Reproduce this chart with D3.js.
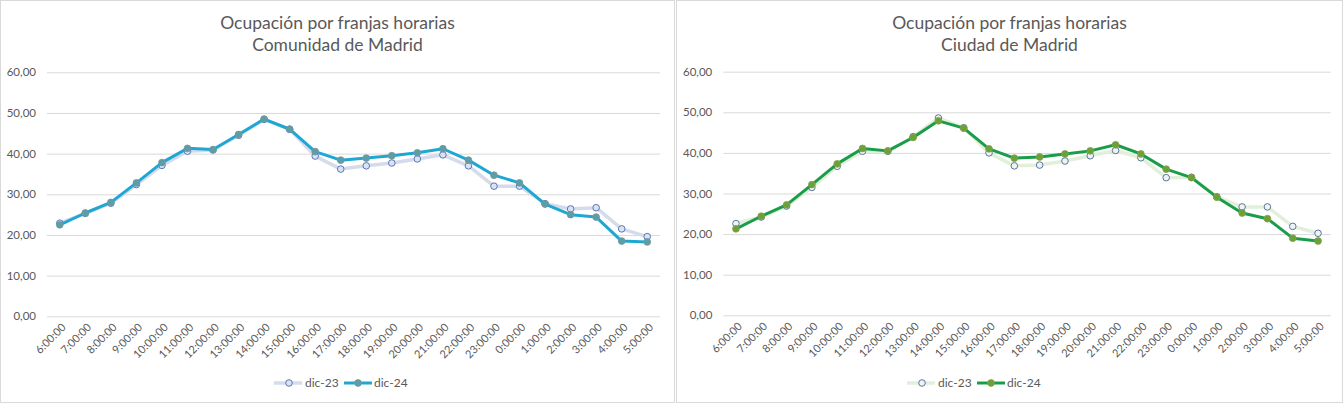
<!DOCTYPE html>
<html><head><meta charset="utf-8">
<script src="https://cdn.jsdelivr.net/npm/d3@7/dist/d3.min.js"></script>
<style>
html,body{margin:0;padding:0;background:#fff;}
svg text{font-family:Lato,"Open Sans",sans-serif;fill:#595959;}
</style></head><body>
<svg id="c" width="1343" height="406"></svg>
<script>
const hours = ["6:00:00","7:00:00","8:00:00","9:00:00","10:00:00","11:00:00","12:00:00","13:00:00","14:00:00","15:00:00","16:00:00","17:00:00","18:00:00","19:00:00","20:00:00","21:00:00","22:00:00","23:00:00","0:00:00","1:00:00","2:00:00","3:00:00","4:00:00","5:00:00"];
const yTicks = [0,10,20,30,40,50,60];
const seriesNames = ["dic-23","dic-24"];

const comunidad23 = [22.9,25.3,27.8,32.4,37.1,40.6,40.9,44.5,48.4,46.0,39.4,36.2,37.0,37.7,38.7,39.7,37.0,32.0,32.0,27.7,26.4,26.7,21.5,19.6];
const comunidad24 = [22.5,25.4,28.0,32.8,37.8,41.3,41.0,44.7,48.5,46.0,40.5,38.4,38.9,39.5,40.2,41.2,38.4,34.7,32.8,27.6,25.0,24.4,18.5,18.3];

const ciudad23 = [22.6,24.2,26.9,31.5,36.7,40.4,40.4,44.0,48.6,46.2,40.0,36.8,37.0,38.0,39.3,40.6,38.8,33.9,34.0,29.2,26.7,26.7,21.9,20.2];
const ciudad24 = [21.3,24.4,27.2,32.2,37.3,41.1,40.5,43.8,47.9,46.1,41.0,38.7,39.0,39.75,40.5,42.0,39.75,36.0,33.9,29.1,25.2,23.8,19.0,18.3];

const svg = d3.select("#c");
const fmt = v => d3.format(".2f")(v).replace(".", ",");

function drawChart(cfg){
  const g = svg.append("g");
  g.append("rect").attr("x",cfg.box[0]).attr("y",cfg.box[1]).attr("width",cfg.box[2]).attr("height",cfg.box[3])
    .attr("fill","#fff").attr("stroke","#d9d9d9").attr("stroke-width",1);
  const cx = cfg.box[0] + cfg.box[2]/2;
  const t = g.append("text").attr("text-anchor","middle").attr("font-size",17.5);
  t.append("tspan").attr("x",cx).attr("y",28.5).text("Ocupación por franjas horarias");
  t.append("tspan").attr("x",cx).attr("y",50.5).text(cfg.subtitle);

  const x = d3.scaleBand().domain(hours).range([cfg.x0,cfg.x1]);
  const xc = d => x(d) + x.bandwidth()/2;
  const y = d3.scaleLinear().domain([0,60]).range([cfg.y0,cfg.y60]);

  const yAxis = d3.axisLeft(y).tickValues(yTicks).tickSize(-(cfg.x1-cfg.x0)).tickFormat(fmt).tickPadding(11);
  const ya = g.append("g").attr("transform",`translate(${cfg.x0},0)`).call(yAxis);
  ya.select(".domain").remove();
  ya.selectAll(".tick line").attr("stroke","#d9d9d9");
  ya.selectAll(".tick text").attr("font-size",11.5).attr("fill","#595959").style("font-family","Lato");

  const xa = g.append("g");
  xa.selectAll("text").data(hours).join("text")
    .attr("transform",d=>`translate(${xc(d)+4},${cfg.y0+9}) rotate(-45)`)
    .attr("text-anchor","end").attr("dy","0.35em").attr("font-size",11).text(d=>d);

  const line = d3.line().x((d,i)=>xc(hours[i])).y(d=>y(d));
  const s = cfg.styles;
  // dic-23
  g.append("path").datum(cfg.a).attr("d",line).attr("fill","none").attr("stroke",s[0].line).attr("stroke-width",3.5).attr("stroke-linejoin","round");
  g.append("g").selectAll("circle").data(cfg.a).join("circle")
    .attr("cx",(d,i)=>xc(hours[i])).attr("cy",d=>y(d)).attr("r",3.3)
    .attr("fill",s[0].fill).attr("stroke",s[0].stroke).attr("stroke-width",0.9);
  // dic-24
  g.append("path").datum(cfg.b).attr("d",line).attr("fill","none").attr("stroke",s[1].line).attr("stroke-width",3).attr("stroke-linejoin","round");
  g.append("g").selectAll("circle").data(cfg.b).join("circle")
    .attr("cx",(d,i)=>xc(hours[i])).attr("cy",d=>y(d)).attr("r",3.4)
    .attr("fill",s[1].fill).attr("stroke",s[1].stroke).attr("stroke-width",0.8);

  // legend
  const lg = g.append("g").attr("transform",`translate(${cfg.legX},383)`);
  lg.append("line").attr("x1",0).attr("x2",28).attr("stroke",s[0].line).attr("stroke-width",3.5);
  lg.append("circle").attr("cx",15).attr("r",3.3).attr("fill",s[0].fill).attr("stroke",s[0].stroke).attr("stroke-width",0.9);
  lg.append("text").attr("x",31).attr("dy","0.35em").attr("font-size",12).text(seriesNames[0]);
  lg.append("line").attr("x1",70).attr("x2",98).attr("stroke",s[1].line).attr("stroke-width",3);
  lg.append("circle").attr("cx",84).attr("r",3.4).attr("fill",s[1].fill).attr("stroke",s[1].stroke).attr("stroke-width",0.8);
  lg.append("text").attr("x",100).attr("dy","0.35em").attr("font-size",12).text(seriesNames[1]);
}

drawChart({box:[0.5,0.5,674,402], subtitle:"Comunidad de Madrid", x0:47, x1:660, y0:316.3, y60:72.3,
  a:comunidad23, b:comunidad24, legX:274,
  styles:[{line:"#d5dbeb",fill:"#dae3f3",stroke:"#4a6bb0"},{line:"#1fa7d3",fill:"#5a9ea6",stroke:"#7a96a0"}]});
drawChart({box:[676.5,0.5,666,402], subtitle:"Ciudad de Madrid", x0:723.3, x1:1330.7, y0:315.3, y60:71.7,
  a:ciudad23, b:ciudad24, legX:907,
  styles:[{line:"#e2efda",fill:"#eef3f8",stroke:"#4a6a8c"},{line:"#1a9d4a",fill:"#6aa238",stroke:"#86a04a"}]});
</script>
</body></html>
